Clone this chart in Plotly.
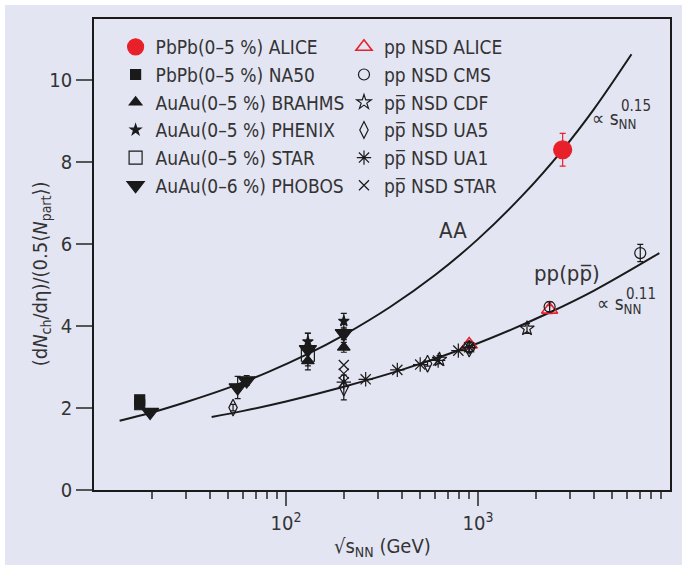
import plotly.graph_objects as go

# ---------------- data ----------------
# fit curves
aa_curve_x = [13.6, 20, 30, 50, 80, 130, 200, 350, 600, 1000, 1700, 2760, 4000, 6300]
aa_curve_y = [1.69, 1.89, 2.14, 2.49, 2.87, 3.32, 3.78, 4.47, 5.25, 6.12, 7.18, 8.30, 9.28, 10.63]
pp_curve_x = [41, 60, 100, 200, 400, 900, 1500, 2360, 4000, 8800]
pp_curve_y = [1.78, 1.93, 2.16, 2.52, 2.93, 3.50, 3.92, 4.33, 4.86, 5.78]

# nucleus-nucleus
alice_pbpb_x = [2760]
alice_pbpb_y = [8.3]
alice_pbpb_err = [0.4]
na50_x = [17.3, 17.3]
na50_y = [2.08, 2.2]
brahms_x = [130, 200]
brahms_y = [3.15, 3.48]
brahms_err = [0.22, 0.12]
phenix_x = [130, 200]
phenix_y = [3.62, 4.12]
phenix_err = [0.2, 0.19]
star_aa_x = [130]
star_aa_y = [3.3]
phobos_x = [19.6, 56, 62.4, 130, 200]
phobos_y = [1.90, 2.50, 2.67, 3.43, 3.82]
phobos_err = [0.08, 0.27, 0.12, 0.4, 0.15]

# pp / ppbar
alice_pp_x = [900, 2360]
alice_pp_y = [3.55, 4.40]
alice_pp_err = [0.08, 0.1]
cms_x = [900, 2360, 7000]
cms_y = [3.48, 4.47, 5.78]
cms_err = [0.13, 0.12, 0.21]
cdf_x = [630, 1800]
cdf_y = [3.18, 3.94]
cdf_err = [0.1, 0.12]
ua5_x = [53, 200, 546, 900]
ua5_y = [2.01, 2.50, 3.08, 3.45]
ua5_err = [0.08, 0.3, 0.06, 0.07]
ua1_x = [200, 260, 380, 500, 620, 790, 900]
ua1_y = [2.63, 2.70, 2.93, 3.06, 3.16, 3.40, 3.48]
star_pp_x = [200, 200]
star_pp_y = [3.05, 2.84]

x_major_vals = [100, 1000]
x_major_text = ["10<sup>2</sup>", "10<sup>3</sup>"]
x_minor_vals = [20, 30, 40, 50, 60, 70, 80, 90,
                200, 300, 400, 500, 600, 700, 800, 900,
                2000, 3000, 4000, 5000, 6000, 7000, 8000, 9000]
y_tick_vals = [0, 2, 4, 6, 8, 10]

# ---------------- style ----------------
FONT = "DejaVu Sans Condensed, Liberation Sans Narrow, sans-serif"
BLACK = "#1a1a1a"
RED = "#e8202a"
TXT = "#333333"
BG = "#e3e5f3"

fig = go.Figure()

fig.add_trace(go.Scatter(x=aa_curve_x, y=aa_curve_y, mode="lines", line=dict(color=BLACK, width=2, shape="spline"),
                         showlegend=False, hoverinfo="skip"))
fig.add_trace(go.Scatter(x=pp_curve_x, y=pp_curve_y, mode="lines", line=dict(color=BLACK, width=2, shape="spline"),
                         showlegend=False, hoverinfo="skip"))


def err(a, color=BLACK):
    return dict(type="data", array=a, visible=True, color=color, thickness=1.2, width=3)


def add(name, x, y, symbol, size, color=BLACK, e=None, legend="legend", lw=1.2):
    kw = {}
    if e is not None:
        kw["error_y"] = err(e, color)
    fig.add_trace(go.Scatter(
        x=x, y=y, mode="markers", name=name, legend=legend,
        marker=dict(symbol=symbol, size=size, color=color, line=dict(color=color, width=lw)),
        **kw,
    ))


# pp / ppbar (drawn first so AA markers sit above)
add("pp NSD ALICE", alice_pp_x, alice_pp_y, "triangle-up-open", 14, RED, alice_pp_err, "legend2", 1.6)
add("pp NSD CMS", cms_x, cms_y, "circle-open", 11, BLACK, cms_err, "legend2")
add("pp\u0305 NSD CDF", cdf_x, cdf_y, "star-open", 11, BLACK, cdf_err, "legend2")
add("pp\u0305 NSD UA5", ua5_x, ua5_y, "diamond-tall-open", 12, BLACK, ua5_err, "legend2")
add("pp\u0305 NSD UA1", ua1_x, ua1_y, "asterisk-open", 12, BLACK, None, "legend2")
add("pp\u0305 NSD STAR", star_pp_x, star_pp_y, "x-thin-open", 10, BLACK, None, "legend2")

# nucleus-nucleus
add("PbPb(0\u20135 %) ALICE", alice_pbpb_x, alice_pbpb_y, "circle", 18, RED, alice_pbpb_err)
add("PbPb(0\u20135 %) NA50", na50_x, na50_y, "square", 10)
add("AuAu(0\u20135 %) BRAHMS", brahms_x, brahms_y, "triangle-up", 11, BLACK, brahms_err)
add("AuAu(0\u20135 %) PHENIX", phenix_x, phenix_y, "star", 8, BLACK, phenix_err)
add("AuAu(0\u20135 %) STAR", star_aa_x, star_aa_y, "square-open", 13)
add("AuAu(0\u20136 %) PHOBOS", phobos_x, phobos_y, "triangle-down", 15, BLACK, phobos_err)

annotations = [
    dict(x=2.872, y=6.33, text="AA", font=dict(size=22, color=TXT, family=FONT)),
    dict(x=3.464, y=5.28, text="pp(pp\u0305)", font=dict(size=22, color=TXT, family=FONT)),
    dict(x=3.585, y=9.04, text="\u221d s<sub>NN</sub>", xanchor="left", font=dict(size=19, color=TXT, family=FONT)),
    dict(x=3.735, y=9.36, text="0.15", xanchor="left", font=dict(size=15, color=TXT, family=FONT)),
    dict(x=3.610, y=4.52, text="\u221d s<sub>NN</sub>", xanchor="left", font=dict(size=19, color=TXT, family=FONT)),
    dict(x=3.760, y=4.78, text="0.11", xanchor="left", font=dict(size=15, color=TXT, family=FONT)),
    dict(xref="paper", yref="paper", x=-0.118, y=0.458, textangle=-90,
         text="(d<i>N</i><sub>ch</sub>/d\u03b7)/(0.5\u27e8<i>N</i><sub>part</sub>\u27e9)",
         font=dict(size=20, color=TXT, family=FONT)),
    dict(xref="paper", yref="paper", x=0.5, y=-0.122, yanchor="middle",
         text="\u221as<sub>NN</sub> (GeV)", font=dict(size=20, color=TXT, family=FONT)),
]
for a in annotations:
    a.setdefault("showarrow", False)
    a.setdefault("xref", "x")
    a.setdefault("yref", "y")

fig.update_layout(
    width=682, height=565,
    margin=dict(l=94, r=12, t=19, b=75, autoexpand=False),
    paper_bgcolor="white",
    plot_bgcolor=BG,
    font=dict(family=FONT, size=20, color=TXT),
    annotations=annotations,
    shapes=[dict(type="rect", xref="paper", yref="paper", x0=-0.1545, x1=1.03, y0=-0.17, y1=1.0298,
                 fillcolor=BG, line=dict(width=0), layer="below")],
    legend=dict(x=0.0375, y=0.981, xanchor="left", yanchor="top", bgcolor="rgba(0,0,0,0)",
                font=dict(size=19, color=TXT, family=FONT), itemsizing="trace", tracegroupgap=0,
                traceorder="normal"),
    legend2=dict(x=0.434, y=0.981, xanchor="left", yanchor="top", bgcolor="rgba(0,0,0,0)",
                 font=dict(size=19, color=TXT, family=FONT), itemsizing="trace", tracegroupgap=0,
                 traceorder="normal"),
    xaxis=dict(type="log", range=[1, 4], showline=True, linecolor=BLACK, linewidth=1.8, mirror=True,
               automargin=False,
               showgrid=False, zeroline=False, ticks="outside", ticklen=14, tickwidth=1.5, tickcolor="#555",
               tickvals=x_major_vals, ticktext=x_major_text, tickfont=dict(size=20, color=TXT),
               minor=dict(tickvals=x_minor_vals, ticks="outside", ticklen=7, tickwidth=1.5, tickcolor="#555",
                          showgrid=False)),
    yaxis=dict(range=[0, 11.49], showline=True, linecolor=BLACK, linewidth=1.8, mirror=True,
               automargin=False,
               showgrid=False, zeroline=False, ticks="outside", ticklen=16, tickwidth=1.5, tickcolor="#555",
               tickvals=y_tick_vals, tickfont=dict(size=20, color=TXT), ticklabelstandoff=0),
)

fig.write_html("out.html", config={"displayModeBar": False},
               post_script="document.body.style.margin='0';document.body.style.overflow='hidden';")
